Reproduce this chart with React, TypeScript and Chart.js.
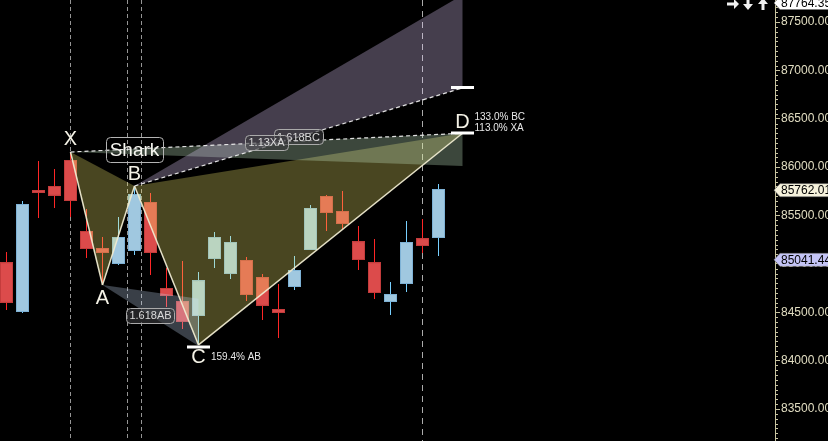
import { useEffect, useRef } from 'react';
import { Chart, registerables } from 'chart.js';

Chart.register(...registerables);

// ---- candle data (index along the time axis) ----
const candleIndex = [0, 1, 2, 3, 4, 5, 6, 7, 8, 9, 10, 11, 12, 13, 14, 15, 16, 17, 18, 19, 20, 21, 22, 23, 24, 25, 26, 27];
const opens = [85019, 84503, 85764, 85805, 86074, 85340, 85164, 84999, 85133, 85640, 84751, 84616, 84461, 85050, 84895, 85040, 84864, 84534, 84761, 85143, 85702, 85547, 85236, 85019, 84606, 84792, 85267, 85267];
const closes = [84596, 85619, 85733, 85702, 85650, 85154, 85112, 85278, 85722, 85112, 84668, 84399, 84833, 85278, 85226, 84678, 84565, 84492, 84937, 85578, 85526, 85412, 85040, 84699, 84689, 85226, 85185, 85774];
const highs = [85123, 85650, 86063, 85981, 86156, 85567, 85278, 85484, 85805, 85733, 84957, 85030, 84916, 85329, 85288, 85071, 84895, 84792, 85081, 85609, 85712, 85753, 85391, 85257, 84813, 85443, 85464, 85826];
const lows = [84523, 84492, 85474, 85578, 85484, 85061, 84782, 84988, 85092, 84885, 84554, 84327, 84162, 84957, 84844, 84616, 84420, 84234, 84730, 85143, 85340, 85360, 84937, 84637, 84472, 84709, 85112, 85081];

// ---- harmonic pattern (Shark) ----
const patternName = 'Shark';
const pointNames = ['X', 'A', 'B', 'C', 'D'];
const pointIndex = [4, 6, 8, 12, 28.5];
const pointValues = [86156, 84782, 85805, 84162, 86350];
const xaZoneValues = [86012];          // lower edge of the XA projection at D
const bcZoneValues = [86818, 87779];    // 1.618 BC level and upper edge at D
const abZoneValues = [84640, 84150];    // AB projection levels at C
const ratioTextD = ['133.0% BC', '113.0% XA'];
const ratioTextC = ['159.4% AB'];
const boxLabels = ['1.618AB', '1.618BC', '1.13XA'];

// ---- vertical markers, price tags, axis ----
const markerIndex = [4, 7.5625, 8.4375, 26];
const tagValues = [87764.35, 85762.01, 85041.44];
const tagLabels = ['87764.35', '85762.01', '85041.44'];
const yTickValues = [83500, 84000, 84500, 85000, 85500, 86000, 86500, 87000, 87500];
const yTickStep = 500;
const yMinorStep = 50;
const yMin = 83169.3;
const yMax = 87727.4;
const xMin = -0.40625;
const xMax = 48.03125;

const FONT = '"Liberation Sans", Arial, sans-serif';

function poly(ctx: any, pts: any[], color: string) {
  ctx.beginPath();
  ctx.moveTo(pts[0].x, pts[0].y);
  for (let i = 1; i < pts.length; i++) ctx.lineTo(pts[i].x, pts[i].y);
  ctx.closePath();
  ctx.fillStyle = color;
  ctx.fill();
}

function rr(ctx: any, x: number, y: number, w: number, h: number, r: number) {
  ctx.beginPath();
  ctx.moveTo(x + r, y);
  ctx.lineTo(x + w - r, y);
  ctx.arcTo(x + w, y, x + w, y + r, r);
  ctx.lineTo(x + w, y + h - r);
  ctx.arcTo(x + w, y + h, x + w - r, y + h, r);
  ctx.lineTo(x + r, y + h);
  ctx.arcTo(x, y + h, x, y + h - r, r);
  ctx.lineTo(x, y + r);
  ctx.arcTo(x, y, x + r, y, r);
  ctx.closePath();
}

function line(ctx: any, a: any, b: any) {
  ctx.beginPath();
  ctx.moveTo(a.x, a.y);
  ctx.lineTo(b.x, b.y);
  ctx.stroke();
}

function labelBox(ctx: any, text: string, cx: number, cy: number, size: number, padX: number, h: number) {
  ctx.font = `${size}px ${FONT}`;
  const w = ctx.measureText(text).width + padX * 2;
  rr(ctx, Math.round(cx - w / 2) + 0.5, Math.round(cy - h / 2) + 0.5, Math.round(w), h, 4);
  ctx.fillStyle = 'rgba(58,58,62,0.6)';
  ctx.fill();
  ctx.strokeStyle = '#aaaaaa';
  ctx.lineWidth = 1;
  ctx.setLineDash([]);
  ctx.stroke();
  ctx.fillStyle = '#dadada';
  ctx.textAlign = 'center';
  ctx.textBaseline = 'middle';
  ctx.fillText(text, cx, cy + 0.5);
}

const patternPlugin = {
  id: 'pattern',
  beforeDatasetsDraw(chart: any) {
    const { ctx, chartArea } = chart;
    const xs = chart.scales.x;
    ctx.save();
    ctx.lineWidth = 1;
    markerIndex.forEach((i, k) => {
      const x = Math.round(xs.getPixelForValue(i) - 0.5) + 0.5;
      ctx.strokeStyle = k === markerIndex.length - 1 ? 'rgba(190,190,190,0.9)' : 'rgba(175,175,175,0.85)';
      ctx.setLineDash(k === markerIndex.length - 1 ? [6, 5] : [4, 3]);
      ctx.beginPath();
      ctx.moveTo(x, chartArea.top);
      ctx.lineTo(x, chartArea.bottom);
      ctx.stroke();
    });
    ctx.restore();
  },
  afterDatasetsDraw(chart: any) {
    const { ctx, chartArea } = chart;
    const xs = chart.scales.x;
    const ys = chart.scales.y;
    const P = (i: number, v: number) => ({ x: xs.getPixelForValue(i), y: ys.getPixelForValue(v) });
    const [X, A, B, C, D] = pointIndex.map((i, k) => P(i, pointValues[k]));
    const Dlow = P(pointIndex[4], xaZoneValues[0]);
    const Dproj = P(pointIndex[4], bcZoneValues[0]);
    const Dtop = P(pointIndex[4], bcZoneValues[1]);
    const Cup = P(pointIndex[3], abZoneValues[0]);
    const Clow = P(pointIndex[3], abZoneValues[1]);

    ctx.save();
    ctx.beginPath();
    ctx.rect(chartArea.left, chartArea.top, chartArea.right - chartArea.left, chartArea.bottom - chartArea.top);
    ctx.clip();

    // zones
    const olive = 'rgba(250,240,112,0.29)';
    poly(ctx, [X, A, B], olive);
    poly(ctx, [B, C, D], olive);
    poly(ctx, [X, D, Dlow], 'rgba(200,235,200,0.3)');
    poly(ctx, [B, Dtop, Dproj], 'rgba(230,204,255,0.3)');
    poly(ctx, [A, Cup, Clow], 'rgba(205,226,255,0.28)');

    // pattern legs
    ctx.strokeStyle = 'rgba(238,234,208,0.95)';
    ctx.lineWidth = 1.5;
    ctx.setLineDash([]);
    line(ctx, X, A);
    line(ctx, A, B);
    line(ctx, B, C);
    line(ctx, C, D);

    // dashed projections
    ctx.strokeStyle = 'rgba(235,235,235,0.95)';
    ctx.lineWidth = 1.2;
    ctx.setLineDash([4, 3]);
    line(ctx, X, D);
    line(ctx, B, Dproj);
    ctx.setLineDash([]);

    // level bars
    ctx.fillStyle = '#ffffff';
    ctx.fillRect(Math.round(C.x - 11.5), Math.round(C.y) + 0.5, 23, 3);
    ctx.fillRect(Math.round(D.x - 11.5), Math.round(D.y) - 1.5, 23, 3);
    ctx.fillRect(Math.round(Dproj.x - 11.5), Math.round(Dproj.y) - 2, 23, 3);

    // point letters
    ctx.fillStyle = '#f4f2e6';
    ctx.font = `20px ${FONT}`;
    ctx.textAlign = 'center';
    ctx.textBaseline = 'middle';
    const offs = [-13, 14, -12, 12.5, -11];
    [X, A, B, C, D].forEach((p, k) => ctx.fillText(pointNames[k], p.x, p.y + offs[k]));

    // ratio texts
    ctx.font = `10px ${FONT}`;
    ctx.textAlign = 'left';
    ctx.fillStyle = '#e8e8e8';
    ctx.fillText(ratioTextD[0], D.x + 12, D.y - 16);
    ctx.fillText(ratioTextD[1], D.x + 12, D.y - 5);
    ctx.fillText(ratioTextC[0], C.x + 12.5, C.y + 12.5);

    // label boxes on the projection lines
    labelBox(ctx, boxLabels[0], (A.x + Clow.x) / 2, (A.y + Clow.y) / 2, 11, 3, 15);
    labelBox(ctx, boxLabels[1], (B.x + Dproj.x) / 2, (B.y + Dproj.y) / 2, 11, 3, 15);
    labelBox(ctx, boxLabels[2], (X.x + D.x) / 2, (X.y + D.y) / 2, 11, 3.5, 15);

    // pattern name box
    ctx.font = `19px ${FONT}`;
    const nw = ctx.measureText(patternName).width + 7;
    const ncy = B.y - 36.5;
    rr(ctx, Math.round(B.x - nw / 2) + 0.5, Math.round(ncy - 12.5) + 0.5, Math.round(nw), 25, 4);
    ctx.strokeStyle = '#b4b4b4';
    ctx.lineWidth = 1;
    ctx.stroke();
    ctx.fillStyle = '#f6f6f0';
    ctx.textAlign = 'center';
    ctx.textBaseline = 'middle';
    ctx.fillText(patternName, B.x, ncy + 1);
    ctx.restore();
  },
  afterDraw(chart: any) {
    const { ctx, chartArea } = chart;
    const ys = chart.scales.y;
    const ax = chartArea.right;
    ctx.save();
    // minor axis ticks
    ctx.strokeStyle = '#c8c4a0';
    ctx.lineWidth = 1;
    for (let v = Math.ceil(yMin / yMinorStep) * yMinorStep; v <= yMax; v += yMinorStep) {
      if (v % yTickStep === 0) continue;
      const y = Math.round(ys.getPixelForValue(v)) + 0.5;
      ctx.beginPath();
      ctx.moveTo(ax, y);
      ctx.lineTo(ax + 3, y);
      ctx.stroke();
    }
    // price tags
    const tagColors = ['#ffffff', '#f6f2dc', '#c4c4f6'];
    tagValues.forEach((v, k) => {
      let y = ys.getPixelForValue(v);
      y = Math.max(chartArea.top + 3, Math.min(chartArea.bottom - 7, y));
      ctx.beginPath();
      ctx.moveTo(ax - 1, y);
      ctx.lineTo(ax + 5, y - 6.5);
      ctx.lineTo(ax + 60, y - 6.5);
      ctx.lineTo(ax + 60, y + 6.5);
      ctx.lineTo(ax + 5, y + 6.5);
      ctx.closePath();
      ctx.fillStyle = tagColors[k];
      ctx.fill();
      ctx.strokeStyle = 'rgba(120,120,120,0.6)';
      ctx.stroke();
      ctx.fillStyle = '#000000';
      ctx.font = `12px ${FONT}`;
      ctx.textAlign = 'left';
      ctx.textBaseline = 'middle';
      ctx.fillText(tagLabels[k], ax + 6, y + 0.5);
    });
    // navigation arrows (drawn as simple shapes)
    ctx.fillStyle = '#f0f0f0';
    const arrowY = 4;
    // right arrow
    let cx = ax - 42;
    ctx.beginPath();
    ctx.moveTo(cx - 6, arrowY - 1.5);
    ctx.lineTo(cx + 1, arrowY - 1.5);
    ctx.lineTo(cx + 1, arrowY - 5);
    ctx.lineTo(cx + 6, arrowY);
    ctx.lineTo(cx + 1, arrowY + 5);
    ctx.lineTo(cx + 1, arrowY + 1.5);
    ctx.lineTo(cx - 6, arrowY + 1.5);
    ctx.closePath();
    ctx.fill();
    // down arrow
    cx = ax - 27;
    ctx.beginPath();
    ctx.moveTo(cx - 1.5, arrowY - 6);
    ctx.lineTo(cx + 1.5, arrowY - 6);
    ctx.lineTo(cx + 1.5, arrowY);
    ctx.lineTo(cx + 5, arrowY);
    ctx.lineTo(cx, arrowY + 6);
    ctx.lineTo(cx - 5, arrowY);
    ctx.lineTo(cx - 1.5, arrowY);
    ctx.closePath();
    ctx.fill();
    // up arrow
    cx = ax - 12;
    ctx.beginPath();
    ctx.moveTo(cx - 1.5, arrowY + 6);
    ctx.lineTo(cx + 1.5, arrowY + 6);
    ctx.lineTo(cx + 1.5, arrowY);
    ctx.lineTo(cx + 5, arrowY);
    ctx.lineTo(cx, arrowY - 6);
    ctx.lineTo(cx - 5, arrowY);
    ctx.lineTo(cx - 1.5, arrowY);
    ctx.closePath();
    ctx.fill();
    ctx.restore();
  },
};

export default function App() {
  const ref = useRef<HTMLCanvasElement | null>(null);

  useEffect(() => {
    if (!ref.current) return;
    const bull = (i: number) => closes[i] >= opens[i];
    const chart = new Chart(ref.current, {
      type: 'bar',
      data: {
        datasets: [
          {
            label: 'bodies',
            data: candleIndex.map((i) => ({ x: i, y: [opens[i], closes[i]] })),
            backgroundColor: candleIndex.map((i) => (bull(i) ? '#a0c8e0' : '#dc4b4b')),
            borderColor: candleIndex.map((i) => (bull(i) ? '#7eb2d6' : '#c43c3c')),
            borderWidth: 1,
            borderSkipped: false,
            barThickness: 13,
            grouped: false,
            inflateAmount: 0,
            order: 1,
          } as any,
          {
            label: 'wicks',
            data: candleIndex.map((i) => ({ x: i, y: [lows[i], highs[i]] })),
            backgroundColor: candleIndex.map((i) => (bull(i) ? '#78d0ff' : '#ff2626')),
            borderWidth: 0,
            barThickness: 1,
            grouped: false,
            inflateAmount: 0,
            order: 2,
          } as any,
        ],
      },
      options: {
        responsive: false,
        animation: false,
        events: [],
        layout: { padding: 0 },
        plugins: { legend: { display: false }, tooltip: { enabled: false } },
        scales: {
          x: { type: 'linear', display: false, offset: false, min: xMin, max: xMax, grid: { offset: false } },
          y: {
            type: 'linear',
            position: 'right',
            min: yMin,
            max: yMax,
            afterBuildTicks: (s: any) => {
              s.ticks = yTickValues.map((v) => ({ value: v }));
            },
            afterFit: (s: any) => {
              s.width = 53;
              s.paddingTop = 0;
              s.paddingBottom = 0;
            },
            border: { display: true, color: '#c8c4a0', width: 1 },
            grid: { drawOnChartArea: false, drawTicks: true, tickLength: 5, color: '#c8c4a0' },
            ticks: {
              autoSkip: false,
              padding: 1,
              color: '#e0dcc0',
              font: { family: FONT, size: 12 },
              callback: (v: any) => Number(v).toFixed(2),
            },
          },
        },
      } as any,
      plugins: [patternPlugin],
    });
    return () => chart.destroy();
  }, []);

  return (
    <div style={{ position: 'fixed', left: 0, top: 0, width: 828, height: 441, background: '#000' }}>
      <canvas ref={ref} width={828} height={441} style={{ display: 'block' }} />
    </div>
  );
}
